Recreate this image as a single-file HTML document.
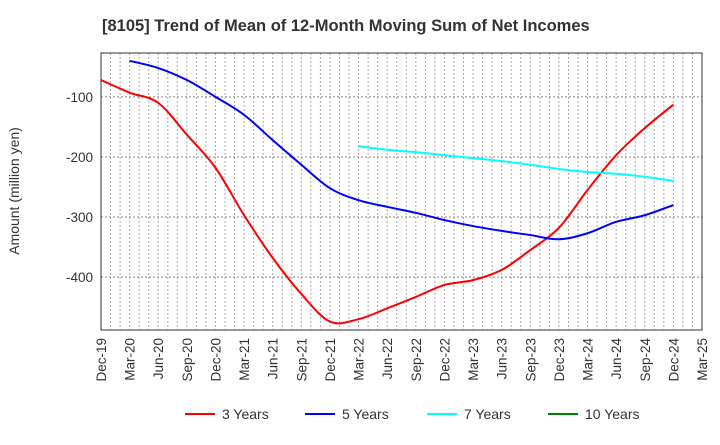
<!DOCTYPE html>
<html><head><meta charset="utf-8"><style>
body{margin:0;background:#fff;font-family:"Liberation Sans",sans-serif}
</style></head><body>
<svg id="c" width="720" height="440" xmlns="http://www.w3.org/2000/svg" font-family="Liberation Sans, sans-serif">
<text x="102" y="31" font-size="16.5" font-weight="bold" fill="#333">[8105]  Trend of Mean of 12-Month Moving Sum of Net Incomes</text>
<text transform="translate(19,191) rotate(-90)" text-anchor="middle" font-size="14" fill="#333">Amount (million yen)</text>
<g id="grid"></g><g id="axes"></g><g id="series"></g><g id="legend"></g>
</svg>
<script>
const xLabels=["Dec-19","Mar-20","Jun-20","Sep-20","Dec-20","Mar-21","Jun-21","Sep-21","Dec-21","Mar-22","Jun-22","Sep-22","Dec-22","Mar-23","Jun-23","Sep-23","Dec-23","Mar-24","Jun-24","Sep-24","Dec-24","Mar-25"];
const yTicks=[-100,-200,-300,-400];
const s3=[-72,-93,-110,-163,-218,-297,-368,-428,-474,-470,-452,-433,-413,-405,-388,-355,-318,-255,-197,-152,-113];
const s3Start=0;
const s5=[-40,-52,-72,-100,-130,-172,-213,-252,-272,-283,-293,-305,-315,-323,-330,-337,-327,-308,-297,-280];
const s5Start=1;
const s7=[-182,-188,-192,-197,-202,-207,-213,-220,-225,-228,-233,-240];
const s7Start=9;
const s10=[];
const L=101,R=702,T=53,B=330,yMax=-27,yMin=-488;
const NS="http://www.w3.org/2000/svg";
const X=q=>L+(R-L)*q/(xLabels.length-1);
const Y=v=>T+(yMax-v)/(yMax-yMin)*(B-T);
function mk(t,a,p){const e=document.createElementNS(NS,t);for(const k in a)e.setAttribute(k,a[k]);p.appendChild(e);return e;}
const grid=document.getElementById('grid'),axes=document.getElementById('axes'),ser=document.getElementById('series'),leg=document.getElementById('legend');
for(let m=1;m<(xLabels.length-1)*3;m++){const x=X(m/3);
const g=mk('line',{x1:x,x2:x,y1:T,y2:B,stroke:'#aaa','stroke-dasharray':'2,2','stroke-width':1},grid);
}
yTicks.forEach(v=>{const y=Y(v);
const g=mk('line',{x1:L,x2:R,y1:y,y2:y,stroke:'#888','stroke-dasharray':'2,2','stroke-width':1},grid);

const t=mk('text',{x:L-8,y:y+5,'text-anchor':'end','font-size':13.5,fill:'#333'},axes);t.textContent=v;
});
const fr=mk('rect',{x:L,y:T,width:R-L,height:B-T,fill:'none',stroke:'#333','stroke-width':1},axes);

xLabels.forEach((l,i)=>{const x=X(i);
const t=mk('text',{transform:`translate(${x+5},${B+8}) rotate(-90)`,'text-anchor':'end','font-size':13.5,fill:'#333'},axes);t.textContent=l;
});
function path(vals,start){const p=vals.map((v,i)=>[X(start+i),Y(v)]);if(p.length<2)return '';
let d=`M${p[0][0]},${p[0][1]}`;
for(let i=0;i<p.length-1;i++){const p0=p[i-1]||p[i],p1=p[i],p2=p[i+1],p3=p[i+2]||p2;
d+=` C${p1[0]+(p2[0]-p0[0])/6},${p1[1]+(p2[1]-p0[1])/6} ${p2[0]-(p3[0]-p1[0])/6},${p2[1]-(p3[1]-p1[1])/6} ${p2[0]},${p2[1]}`;}
return d;}
[[s3,s3Start,'#ff0000','line-3-years'],[s5,s5Start,'#0000ff','line-5-years'],[s7,s7Start,'#00ffff','line-7-years'],[s10,0,'#008000','line-10-years']].forEach(([v,s,c,n])=>{
const d=path(v,s);if(!d)return;const e=mk('path',{d:d,fill:'none',stroke:c,'stroke-width':2},ser);
});
[['3 Years','#ff0000',185],['5 Years','#0000ff',305],['7 Years','#00ffff',427],['10 Years','#008000',548]].forEach(([l,c,x])=>{
const g=mk('g',{},leg);
mk('line',{x1:x,x2:x+30,y1:414,y2:414,stroke:c,'stroke-width':2},g);
const t=mk('text',{x:x+37,y:419,'font-size':14,fill:'#333'},g);t.textContent=l;});
</script>
</body></html>
